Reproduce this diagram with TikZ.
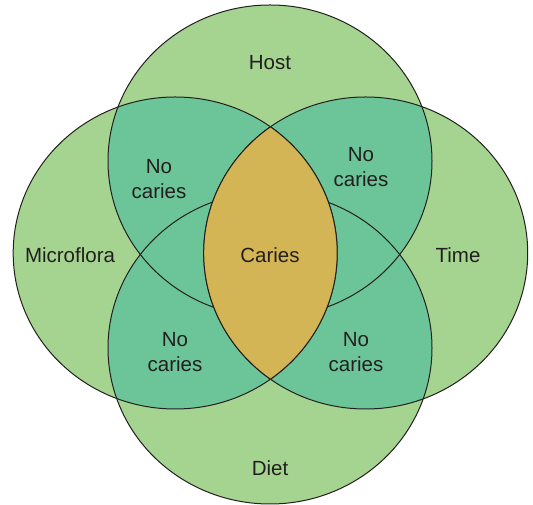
\documentclass[tikz,border=0pt]{standalone}
\usepackage{fontspec}
\setmainfont{Liberation Sans}
\definecolor{lightg}{HTML}{A4D490}
\definecolor{tealg}{HTML}{6CC598}
\definecolor{gold}{HTML}{D4B556}
\definecolor{ink}{HTML}{231F20}
\tikzset{
  outline/.style={draw=ink, line width=1pt},
  lbl/.style={text=ink, align=center, inner sep=0pt, font=\fontsize{20.5}{25}\selectfont},
  rr/.style={x radius=162, y radius=156},
}
\begin{document}
\begin{tikzpicture}[x=1pt,y=1pt]
\useasboundingbox (0,0) rectangle (533,505);
\coordinate (M) at (175.2,252);
\coordinate (T) at (365.7,252);
\coordinate (H) at (270,344);
\coordinate (D) at (270,157);
% single-circle fill
\fill[lightg] (M) ellipse[rr] (T) ellipse[rr] (H) ellipse[rr] (D) ellipse[rr];
% pairwise overlaps
\begin{scope}
  \clip (H) ellipse[rr];
  \fill[tealg] (M) ellipse[rr];
  \fill[tealg] (T) ellipse[rr];
  \fill[tealg] (D) ellipse[rr];
\end{scope}
\begin{scope}
  \clip (D) ellipse[rr];
  \fill[tealg] (M) ellipse[rr];
  \fill[tealg] (T) ellipse[rr];
\end{scope}
% outlines
\draw[outline] (M) ellipse[rr];
\draw[outline] (T) ellipse[rr];
\draw[outline] (H) ellipse[rr];
\draw[outline] (D) ellipse[rr];
% caries lens
\begin{scope}
  \clip (M) ellipse[rr];
  \fill[gold] (T) ellipse[rr];
  \draw[outline] (T) ellipse[rr];
\end{scope}
\begin{scope}
  \clip (T) ellipse[rr];
  \draw[outline] (M) ellipse[rr];
\end{scope}
% labels
\node[lbl] (host) at (270,442.5) {Host};
\node[lbl] (micro) at (70,250) {Microflora};
\node[lbl] (time) at (458,250) {Time};
\node[lbl] (diet) at (270,37) {Diet};
\node[lbl] (caries) at (270,250) {Caries};
\node[lbl] (nc1) at (159,326) {No\\caries};
\node[lbl] (nc2) at (361,338) {No\\caries};
\node[lbl] (nc3) at (175,152.5) {No\\caries};
\node[lbl] (nc4) at (356,152.5) {No\\caries};
\end{tikzpicture}
\end{document}
